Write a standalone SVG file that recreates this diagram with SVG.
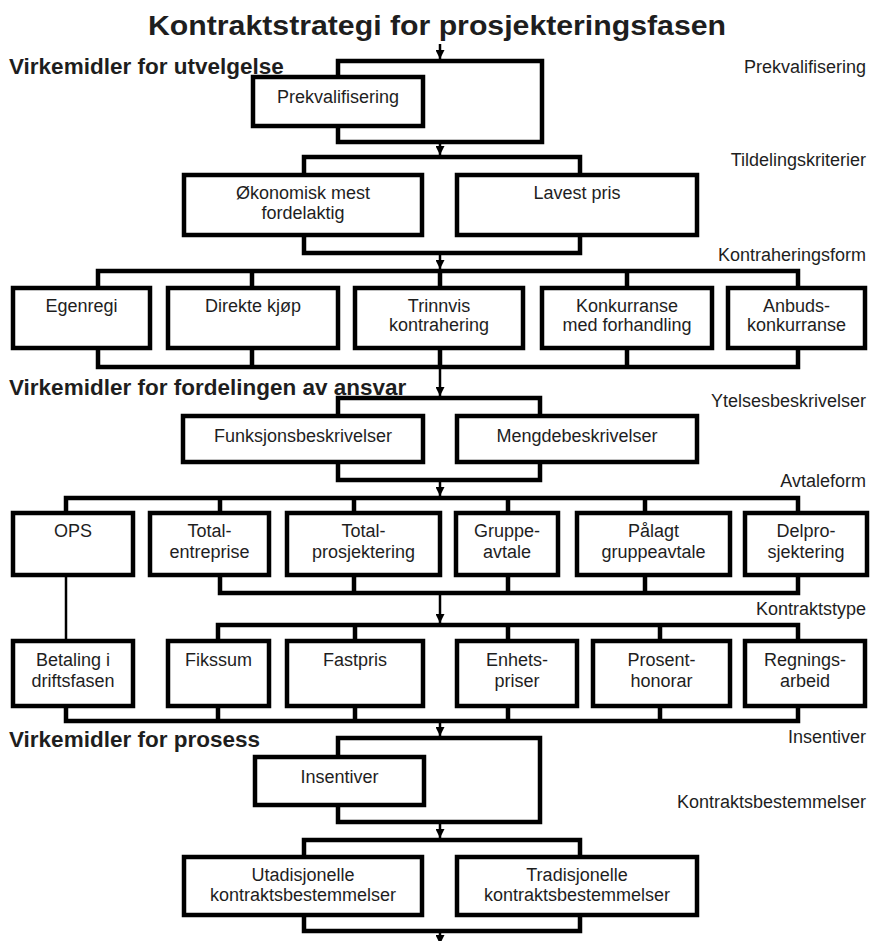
<svg xmlns="http://www.w3.org/2000/svg" width="871" height="941" viewBox="0 0 871 941">
<style>
.bg{fill:#fff}
.box{fill:#fff;stroke:#000;stroke-width:4.5}
.wire{fill:none;stroke:#000;stroke-width:4.5;stroke-linejoin:miter}
.thin{fill:none;stroke:#000;stroke-width:2.5}
.arrow{fill:none;stroke:#000;stroke-width:2.5;marker-end:url(#ah)}
text{font-family:"Liberation Sans",Arial,sans-serif;fill:#1e1e1e}
.t{font-size:18px;text-anchor:middle}
.lbl{font-size:18px;text-anchor:end}
.h{font-size:22.5px;font-weight:bold}
.title{font-size:28px;font-weight:bold;text-anchor:middle}
</style>
<defs>
<marker id="ah" markerUnits="userSpaceOnUse" markerWidth="9" markerHeight="9" viewBox="0 0 10 10" refX="10" refY="5" orient="auto">
<path d="M0,0 L10,5 L0,10 z" fill="#000"/>
</marker>
</defs>
<rect class="bg" x="0" y="0" width="871" height="941"/>

<text class="title" x="437" y="35" textLength="578" lengthAdjust="spacingAndGlyphs">Kontraktstrategi for prosjekteringsfasen</text>
<text class="h" x="9" y="74">Virkemidler for utvelgelse</text>
<text class="h" x="9" y="395">Virkemidler for fordelingen av ansvar</text>
<text class="h" x="9" y="747">Virkemidler for prosess</text>

<g id="labels">
<text class="lbl" x="866" y="73">Prekvalifisering</text>
<text class="lbl" x="866" y="166">Tildelingskriterier</text>
<text class="lbl" x="866" y="261">Kontraheringsform</text>
<text class="lbl" x="866" y="407">Ytelsesbeskrivelser</text>
<text class="lbl" x="866" y="487">Avtaleform</text>
<text class="lbl" x="866" y="615">Kontraktstype</text>
<text class="lbl" x="866" y="743">Insentiver</text>
<text class="lbl" x="866" y="808">Kontraktsbestemmelser</text>
</g>

<g id="connectors">
<path class="wire" d="M338,77 V61 H542 V142 H338 V126"/>
<path class="wire" d="M304,175 V157 H580 V175"/>
<path class="wire" d="M304,235 V253 H580 V235"/>
<path class="wire" d="M98,288 V271 H798 V288 M252,271 V288 M440,271 V288 M627,271 V288"/>
<path class="wire" d="M98,348 V367 H798 V348 M252,348 V367 M440,348 V367 M627,348 V367"/>
<path class="wire" d="M338,416 V398 H540 V416"/>
<path class="wire" d="M338,462 V480 H540 V462"/>
<path class="wire" d="M66,513 V498 H798 V513 M220,498 V513 M354,498 V513 M508,498 V513 M645,498 V513"/>
<path class="wire" d="M220,575 V593 H798 V575 M354,575 V593 M508,575 V593 M645,575 V593"/>
<path class="thin" d="M66,575 V641"/>
<path class="wire" d="M218,641 V625 H798 V641 M355,625 V641 M508,625 V641 M660,625 V641"/>
<path class="wire" d="M66,706 V721 H798 V706 M218,706 V721 M355,706 V721 M508,706 V721 M660,706 V721"/>
<path class="wire" d="M338,757 V738 H540 V822 H338 V805"/>
<path class="wire" d="M304,857 V840 H580 V857"/>
<path class="wire" d="M304,915 V931 H580 V915"/>
<line class="arrow" x1="440" y1="44" x2="440" y2="59"/>
<line class="arrow" x1="440" y1="142" x2="440" y2="155"/>
<line class="arrow" x1="440" y1="253" x2="440" y2="269"/>
<line class="arrow" x1="440" y1="367" x2="440" y2="396"/>
<line class="arrow" x1="440" y1="480" x2="440" y2="496"/>
<line class="arrow" x1="440" y1="593" x2="440" y2="623"/>
<line class="arrow" x1="440" y1="721" x2="440" y2="736"/>
<line class="arrow" x1="440" y1="822" x2="440" y2="838"/>
<line class="arrow" x1="440" y1="931" x2="440" y2="944"/>
</g>

<g id="prekvalifisering"><rect class="box" x="253" y="77" width="170" height="49"/><text class="t" x="338" y="103">Prekvalifisering</text></g>

<g id="okonomisk"><rect class="box" x="184" y="175" width="238" height="60"/><text class="t" x="303" y="199">Økonomisk mest</text><text class="t" x="303" y="219">fordelaktig</text></g>
<g id="lavest-pris"><rect class="box" x="457" y="175" width="240" height="60"/><text class="t" x="577" y="199">Lavest pris</text></g>

<g id="egenregi"><rect class="box" x="13" y="288" width="137" height="60"/><text class="t" x="81.5" y="312">Egenregi</text></g>
<g id="direkte-kjop"><rect class="box" x="168" y="288" width="170" height="60"/><text class="t" x="253" y="312">Direkte kjøp</text></g>
<g id="trinnvis"><rect class="box" x="355" y="288" width="168" height="60"/><text class="t" x="439" y="312">Trinnvis</text><text class="t" x="439" y="331">kontrahering</text></g>
<g id="konkurranse"><rect class="box" x="542" y="288" width="170" height="60"/><text class="t" x="627" y="312">Konkurranse</text><text class="t" x="627" y="331">med forhandling</text></g>
<g id="anbuds"><rect class="box" x="728" y="288" width="137" height="60"/><text class="t" x="796.5" y="312">Anbuds-</text><text class="t" x="796.5" y="331">konkurranse</text></g>

<g id="funksjon"><rect class="box" x="183" y="416" width="240" height="46"/><text class="t" x="303" y="442">Funksjonsbeskrivelser</text></g>
<g id="mengde"><rect class="box" x="457" y="416" width="240" height="46"/><text class="t" x="577" y="442">Mengdebeskrivelser</text></g>

<g id="ops"><rect class="box" x="13" y="513" width="120" height="62"/><text class="t" x="73" y="537">OPS</text></g>
<g id="totalentreprise"><rect class="box" x="150" y="513" width="119" height="62"/><text class="t" x="209.5" y="537">Total-</text><text class="t" x="209.5" y="558">entreprise</text></g>
<g id="totalprosjektering"><rect class="box" x="287" y="513" width="153" height="62"/><text class="t" x="363.5" y="537">Total-</text><text class="t" x="363.5" y="558">prosjektering</text></g>
<g id="gruppeavtale"><rect class="box" x="456" y="513" width="102" height="62"/><text class="t" x="507" y="537">Gruppe-</text><text class="t" x="507" y="558">avtale</text></g>
<g id="palagt"><rect class="box" x="577" y="513" width="153" height="62"/><text class="t" x="653.5" y="537">Pålagt</text><text class="t" x="653.5" y="558">gruppeavtale</text></g>
<g id="delprosjektering"><rect class="box" x="745" y="513" width="122" height="62"/><text class="t" x="806" y="537">Delpro-</text><text class="t" x="806" y="558">sjektering</text></g>

<g id="betaling"><rect class="box" x="13" y="641" width="120" height="65"/><text class="t" x="73" y="666">Betaling i</text><text class="t" x="73" y="687">driftsfasen</text></g>
<g id="fikssum"><rect class="box" x="168" y="641" width="101" height="65"/><text class="t" x="218.5" y="666">Fikssum</text></g>
<g id="fastpris"><rect class="box" x="287" y="641" width="136" height="65"/><text class="t" x="355" y="666">Fastpris</text></g>
<g id="enhetspriser"><rect class="box" x="457" y="641" width="120" height="65"/><text class="t" x="517" y="666">Enhets-</text><text class="t" x="517" y="687">priser</text></g>
<g id="prosenthonorar"><rect class="box" x="593" y="641" width="137" height="65"/><text class="t" x="661.5" y="666">Prosent-</text><text class="t" x="661.5" y="687">honorar</text></g>
<g id="regningsarbeid"><rect class="box" x="745" y="641" width="120" height="65"/><text class="t" x="805" y="666">Regnings-</text><text class="t" x="805" y="687">arbeid</text></g>

<g id="insentiver"><rect class="box" x="255" y="757" width="169" height="48"/><text class="t" x="339.5" y="783">Insentiver</text></g>

<g id="utradisjonelle"><rect class="box" x="184" y="857" width="238" height="58"/><text class="t" x="303" y="881">Utadisjonelle</text><text class="t" x="303" y="901">kontraktsbestemmelser</text></g>
<g id="tradisjonelle"><rect class="box" x="457" y="857" width="240" height="58"/><text class="t" x="577" y="881">Tradisjonelle</text><text class="t" x="577" y="901">kontraktsbestemmelser</text></g>
</svg>
